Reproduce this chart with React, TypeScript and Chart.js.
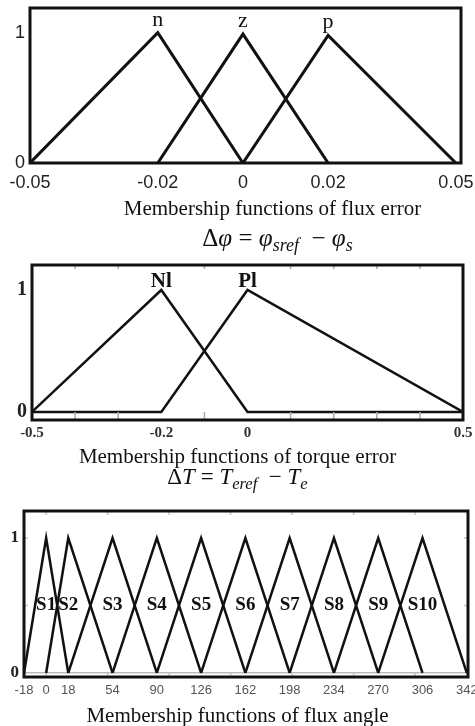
import React, { useEffect, useRef } from 'react';
import { Chart, registerables } from 'chart.js';

Chart.register(...registerables);

// ---------- Chart 1: flux error ----------
const fluxErrTicks = [-0.05, -0.02, 0, 0.02, 0.05];
const fluxErrYTicks = [0, 1];
const fluxErrNames = ['n', 'z', 'p'];
const fluxErrN_x = [-0.05, -0.02, 0];
const fluxErrN_y = [0, 1, 0];
const fluxErrZ_x = [-0.02, 0, 0.02];
const fluxErrZ_y = [0, 0.99, 0];
const fluxErrP_x = [0, 0.02, 0.05];
const fluxErrP_y = [0, 0.98, 0];

// ---------- Chart 2: torque error ----------
const torqueTicks = [-0.5, -0.2, 0, 0.5];
const torqueMinorTicks = [-0.4, -0.3, -0.1, 0.1, 0.2, 0.3, 0.4];
const torqueYTicks = [0, 1];
const torqueNames = ['Nl', 'Pl'];
const torqueNl_x = [-0.5, -0.2, 0, 0.5];
const torqueNl_y = [0, 1, 0, 0];
const torquePl_x = [-0.5, -0.2, 0, 0.5];
const torquePl_y = [0, 0, 1, 0];

// ---------- Chart 3: flux angle ----------
const angleTicks = [-18, 0, 18, 54, 90, 126, 162, 198, 234, 270, 306, 342];
const angleMinorX = [0, 50, 100, 150, 200, 250, 300];
const angleMinorY = [0.5, 1];
const angleYTicks = [0, 1];
const angleNames = ['S1', 'S2', 'S3', 'S4', 'S5', 'S6', 'S7', 'S8', 'S9', 'S10'];
const angleStart = [-18, 0, 18, 54, 90, 126, 162, 198, 234, 270];
const anglePeak = [0, 18, 54, 90, 126, 162, 198, 234, 270, 306];
const angleEnd = [18, 54, 90, 126, 162, 198, 234, 270, 306, 342];
const angleLabelLevel = 0.5;

const SERIF = '"Liberation Serif", "Times New Roman", serif';
const SANS = '"Liberation Sans", Arial, sans-serif';

type Cfg = {
  width: number;
  height: number;
  padTop: number;
  padRight: number;
  yAxisWidth: number;
  xAxisHeight: number;
  xMin: number;
  xMax: number;
  yMin: number;
  yMax: number;
  xTicks: number[];
  yTicks: number[];
  xTickFont: any;
  xTickColor: string;
  xTickPad: number;
  yTickFont: any;
  yTickColor: string;
  yTickPad: number;
  zeroLine?: string;
  series: { xs: number[]; ys: number[] }[];
  lineWidth: number;
  frameWidth: number;
  minorX?: number[];
  minorY?: number[];
  minorColor?: string;
  minorLenBottom?: number;
  minorLenTop?: number;
  minorLenSide?: number;
  names: string[];
  nameX: number[];
  nameY: number[];
  nameFont: string;
  nameBaseline: CanvasTextBaseline;
  nameDy: number;
};

function MFChart({ cfg }: { cfg: Cfg }) {
  const ref = useRef<HTMLCanvasElement | null>(null);
  useEffect(() => {
    if (!ref.current) return;
    const overlay = {
      id: 'frameLabels',
      afterDatasetsDraw(chart: any) {
        const { ctx, chartArea: a, scales } = chart;
        const xs = scales.x;
        const ys = scales.y;
        ctx.save();
        ctx.strokeStyle = cfg.minorColor || '#999';
        ctx.lineWidth = 1.5;
        const seg = (x1: number, y1: number, x2: number, y2: number) => {
          ctx.beginPath();
          ctx.moveTo(x1, y1);
          ctx.lineTo(x2, y2);
          ctx.stroke();
        };
        (cfg.minorX || []).forEach((v) => {
          const px = xs.getPixelForValue(v);
          seg(px, a.bottom, px, a.bottom - (cfg.minorLenBottom || 4));
          seg(px, a.top, px, a.top + (cfg.minorLenTop || 4));
        });
        (cfg.minorY || []).forEach((v) => {
          const py = ys.getPixelForValue(v);
          seg(a.left, py, a.left + (cfg.minorLenSide || 4), py);
          seg(a.right, py, a.right - (cfg.minorLenSide || 4), py);
        });
        ctx.strokeStyle = '#111';
        ctx.lineWidth = cfg.frameWidth;
        ctx.strokeRect(a.left, a.top, a.right - a.left, a.bottom - a.top);
        ctx.fillStyle = '#111';
        ctx.font = cfg.nameFont;
        ctx.textAlign = 'center';
        ctx.textBaseline = cfg.nameBaseline;
        cfg.names.forEach((t, i) => {
          ctx.fillText(t, xs.getPixelForValue(cfg.nameX[i]), ys.getPixelForValue(cfg.nameY[i]) + cfg.nameDy);
        });
        ctx.restore();
      },
    };
    const chart = new Chart(ref.current, {
      type: 'line',
      data: {
        datasets: cfg.series.map((s) => ({
          data: s.xs.map((x, i) => ({ x, y: s.ys[i] })),
          borderColor: '#111',
          borderWidth: cfg.lineWidth,
          pointRadius: 0,
          tension: 0,
          fill: false,
          borderJoinStyle: 'miter' as const,
        })),
      },
      options: {
        responsive: false,
        animation: false,
        events: [],
        layout: { padding: { top: cfg.padTop, right: cfg.padRight, left: 0, bottom: 0 } },
        plugins: { legend: { display: false }, tooltip: { enabled: false } },
        scales: {
          x: {
            type: 'linear',
            min: cfg.xMin,
            max: cfg.xMax,
            afterBuildTicks: (s: any) => {
              s.ticks = cfg.xTicks.map((v) => ({ value: v }));
            },
            afterFit: (s: any) => {
              s.height = cfg.xAxisHeight;
              s.paddingLeft = 0;
              s.paddingRight = 0;
            },
            grid: { display: false, drawTicks: false },
            border: { display: false },
            ticks: {
              autoSkip: false,
              maxRotation: 0,
              minRotation: 0,
              padding: cfg.xTickPad,
              font: cfg.xTickFont,
              color: cfg.xTickColor,
              callback: (v: any) => String(v),
            },
          },
          y: {
            type: 'linear',
            min: cfg.yMin,
            max: cfg.yMax,
            afterBuildTicks: (s: any) => {
              s.ticks = cfg.yTicks.map((v) => ({ value: v }));
            },
            afterFit: (s: any) => {
              s.width = cfg.yAxisWidth;
              s.paddingTop = 0;
              s.paddingBottom = 0;
            },
            grid: {
              display: !!cfg.zeroLine,
              drawTicks: false,
              lineWidth: 1.5,
              color: (c: any) => (c.tick && c.tick.value === 0 && cfg.zeroLine ? cfg.zeroLine : 'rgba(0,0,0,0)'),
            },
            border: { display: false },
            ticks: {
              padding: cfg.yTickPad,
              font: cfg.yTickFont,
              color: cfg.yTickColor,
              callback: (v: any) => String(v),
            },
          },
        },
      },
      plugins: [overlay],
    } as any);
    return () => chart.destroy();
  }, [cfg]);
  return <canvas ref={ref} width={cfg.width} height={cfg.height} style={{ display: 'block', width: cfg.width, height: cfg.height }} />;
}

const cfg1: Cfg = {
  width: 475,
  height: 200,
  padTop: 8,
  padRight: 14,
  yAxisWidth: 30,
  xAxisHeight: 37,
  xMin: -0.05,
  xMax: 0.0512,
  yMin: 0,
  yMax: 1.19,
  xTicks: fluxErrTicks,
  yTicks: fluxErrYTicks,
  xTickFont: { family: SANS, size: 18 },
  xTickColor: '#222',
  xTickPad: 9,
  yTickFont: { family: SANS, size: 18 },
  yTickColor: '#222',
  yTickPad: 5,
  series: [
    { xs: fluxErrN_x, ys: fluxErrN_y },
    { xs: fluxErrZ_x, ys: fluxErrZ_y },
    { xs: fluxErrP_x, ys: fluxErrP_y },
  ],
  lineWidth: 3,
  frameWidth: 3,
  names: fluxErrNames,
  nameX: [fluxErrN_x[1], fluxErrZ_x[1], fluxErrP_x[1]],
  nameY: [fluxErrN_y[1], fluxErrZ_y[1], fluxErrP_y[1]],
  nameFont: `22px ${SERIF}`,
  nameBaseline: 'alphabetic',
  nameDy: -7,
};

const cfg2: Cfg = {
  width: 475,
  height: 200,
  padTop: 15,
  padRight: 12,
  yAxisWidth: 32,
  xAxisHeight: 30,
  xMin: -0.5,
  xMax: 0.5,
  yMin: -0.066,
  yMax: 1.205,
  xTicks: torqueTicks,
  yTicks: torqueYTicks,
  xTickFont: { family: SERIF, size: 15, weight: 'bold' },
  xTickColor: '#333',
  xTickPad: 4,
  yTickFont: { family: SERIF, size: 20, weight: 'bold' },
  yTickColor: '#222',
  yTickPad: 5,
  series: [
    { xs: torqueNl_x, ys: torqueNl_y },
    { xs: torquePl_x, ys: torquePl_y },
  ],
  lineWidth: 2.5,
  frameWidth: 3,
  minorX: torqueMinorTicks,
  minorColor: '#aaa',
  minorLenBottom: 8,
  minorLenTop: 4,
  names: torqueNames,
  nameX: [torqueNl_x[1], torquePl_x[2]],
  nameY: [torqueNl_y[1], torquePl_y[2]],
  nameFont: `bold 21px ${SERIF}`,
  nameBaseline: 'alphabetic',
  nameDy: -3,
};

const cfg3: Cfg = {
  width: 475,
  height: 210,
  padTop: 16,
  padRight: 7,
  yAxisWidth: 24,
  xAxisHeight: 28,
  xMin: -18,
  xMax: 343,
  yMin: -0.03,
  yMax: 1.2,
  xTicks: angleTicks,
  yTicks: angleYTicks,
  xTickFont: { family: SANS, size: 13 },
  xTickColor: '#555',
  xTickPad: 6,
  yTickFont: { family: SERIF, size: 17, weight: 'bold' },
  yTickColor: '#222',
  yTickPad: 5,
  zeroLine: '#bbb',
  series: angleNames.map((_, i) => ({ xs: [angleStart[i], anglePeak[i], angleEnd[i]], ys: [0, 1, 0] })),
  lineWidth: 2.5,
  frameWidth: 3,
  minorX: angleMinorX,
  minorY: angleMinorY,
  minorColor: '#c8c8c8',
  minorLenBottom: 4,
  minorLenTop: 4,
  minorLenSide: 4,
  names: angleNames,
  nameX: anglePeak,
  nameY: angleNames.map(() => angleLabelLevel),
  nameFont: `bold 19px ${SERIF}`,
  nameBaseline: 'middle',
  nameDy: 0,
};

const capStyle: React.CSSProperties = {
  position: 'absolute',
  width: 475,
  textAlign: 'center',
  fontFamily: SERIF,
  fontSize: 21,
  lineHeight: '24px',
  color: '#111',
  whiteSpace: 'nowrap',
};
const subStyle: React.CSSProperties = { fontSize: '0.72em', verticalAlign: '-0.3em', lineHeight: 0, fontStyle: 'italic' };

export default function App() {
  return (
    <div style={{ position: 'absolute', left: 0, top: 0, width: 475, height: 726, background: '#fff', overflow: 'hidden' }}>
      <div style={{ position: 'absolute', left: 0, top: 0 }}>
        <MFChart cfg={cfg1} />
      </div>
      <div style={{ ...capStyle, left: 35, top: 196 }}>Membership functions of flux error</div>
      <div style={{ ...capStyle, left: 40, top: 225, fontSize: 25, lineHeight: '26px' }}>
        Δ<i>φ</i> = <i>φ</i>
        <span style={subStyle}>sref</span>&nbsp; − <i>φ</i>
        <span style={subStyle}>s</span>
      </div>
      <div style={{ position: 'absolute', left: 0, top: 250 }}>
        <MFChart cfg={cfg2} />
      </div>
      <div style={{ ...capStyle, left: 0, top: 444 }}>Membership functions of torque error</div>
      <div style={{ ...capStyle, left: 0, top: 465, fontSize: 23, lineHeight: '24px' }}>
        Δ<i>T</i> = <i>T</i>
        <span style={subStyle}>eref</span>&nbsp; − <i>T</i>
        <span style={subStyle}>e</span>
      </div>
      <div style={{ position: 'absolute', left: 0, top: 495 }}>
        <MFChart cfg={cfg3} />
      </div>
      <div style={{ ...capStyle, left: 0, top: 703 }}>Membership functions of flux angle</div>
    </div>
  );
}
